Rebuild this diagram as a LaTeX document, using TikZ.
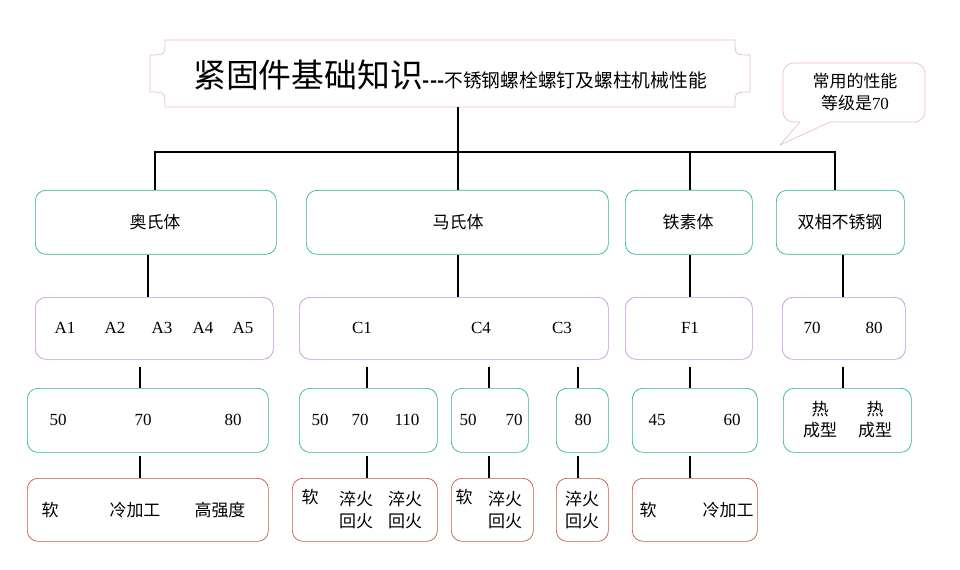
\documentclass[tikz,border=0pt]{standalone}
\usepackage{fontspec}
\setmainfont{Liberation Serif}
\newfontfamily\cjk{Noto Sans CJK SC}
\usetikzlibrary{calc}
\definecolor{tealc}{RGB}{40,180,160}
\definecolor{purplec}{RGB}{200,145,215}
\definecolor{redc}{RGB}{200,85,65}
\definecolor{pinkc}{RGB}{235,190,200}
\tikzset{
  box/.style={rectangle, rounded corners=9pt, draw, line width=0.6pt, anchor=north west, inner sep=0pt},
  tealbox/.style={box, draw=tealc},
  purplebox/.style={box, draw=purplec},
  redbox/.style={box, draw=redc},
  txt/.style={font=\cjk\fontsize{14.5}{18}\selectfont, inner sep=0pt, align=center},
  num/.style={font=\fontsize{14.5}{18}\selectfont, inner sep=0pt},
  link/.style={draw, line width=1.6pt},
}
\newcommand\mkbox[6]{\node[#1, minimum width={(#5-#3)*0.03cm}, minimum height={(#6-#4)*0.03cm}] (#2) at (#3,#4) {};}
\begin{document}
\begin{tikzpicture}[x=0.03cm,y=-0.03cm]
    \useasboundingbox (0,0) rectangle (960,570);
    % Title plaque
    \node[inner sep=0pt] (title) at (450,75) {\cjk\fontsize{28}{32}\selectfont 紧固件基础知识\textbf{\fontsize{16}{18}\selectfont ---}\fontsize{16}{18}\selectfont 不锈钢螺栓螺钉及螺柱机械性能};
    \draw[pinkc, line width=0.6pt] (165,40) -- (735,40) .. controls (735,55) .. (750,55) -- (750,92) .. controls (735,92) .. (735,107) -- (165,107) .. controls (165,92) .. (150,92) -- (150,55) .. controls (165,55) .. cycle;
    \coordinate (titlebot) at (458,107);
    % Callout
    \draw[pinkc, line width=0.6pt, rounded corners=9pt] (800,122) -- (783,122) -- (783,63) -- (925,63) -- (925,122) -- (830,122);
    \draw[pinkc, line width=0.6pt] (800,122) -- (780,145) -- (830,122);
    \node[txt] (note) at (855,92) {常用的性能\\等级是{\rmfamily 70}};

    % Row 1
    \mkbox{tealbox}{aus}{35}{190}{276}{254}
    \mkbox{tealbox}{mar}{306}{190}{608}{254}
    \mkbox{tealbox}{fer}{625}{190}{752}{254}
    \mkbox{tealbox}{dup}{776}{190}{904}{254}
    \node[txt] at (155,222) {奥氏体};
    \node[txt] at (458,222) {马氏体};
    \node[txt] at (688,222) {铁素体};
    \node[txt] at (840,222) {双相不锈钢};

    % Row 2
    \mkbox{purplebox}{ausg}{35}{297}{273}{359}
    \mkbox{purplebox}{marg}{299}{297}{608}{359}
    \mkbox{purplebox}{ferg}{625}{297}{752}{359}
    \mkbox{purplebox}{dupg}{782}{297}{905}{359}
    \foreach \x/\t in {65/A1,115/A2,162/A3,203/A4,243/A5,362/C1,481/C4,562/C3,690/F1,812/70,874/80}
      \node[num] at (\x,328) {\t};

    % Row 3
    \mkbox{tealbox}{ap}{27}{388}{268}{452}
    \mkbox{tealbox}{cap}{299}{388}{437}{452}
    \mkbox{tealbox}{cbp}{451}{388}{528}{452}
    \mkbox{tealbox}{ccp}{556}{388}{608}{452}
    \mkbox{tealbox}{fp}{632}{388}{757}{452}
    \mkbox{tealbox}{dp}{783}{388}{911}{452}
    \foreach \x/\t in {58/50,143/70,233/80,320/50,360/70,407/110,468/50,514/70,583/80,657/45,732/60}
      \node[num] at (\x,420) {\t};
    \node[txt] at (820,420) {热\\成型};
    \node[txt] at (875,420) {热\\成型};

    % Row 4
    \mkbox{redbox}{as}{27}{478}{268}{541}
    \mkbox{redbox}{cas}{292}{478}{437}{541}
    \mkbox{redbox}{cbs}{451}{478}{533}{541}
    \mkbox{redbox}{ccs}{556}{478}{608}{541}
    \mkbox{redbox}{fs}{632}{478}{757}{541}
    \foreach \x/\t in {50/软,135/冷加工,220/高强度,648/软,728/冷加工}
      \node[txt] at (\x,510) {\t};
    \node[txt] at (310,497) {软};
    \node[txt] at (356,510) {淬火\\回火};
    \node[txt] at (405,510) {淬火\\回火};
    \node[txt] at (464,497) {软};
    \node[txt] at (505,510) {淬火\\回火};
    \node[txt] at (582,510) {淬火\\回火};

    % Draw edges
    \coordinate (bus) at (458,152);
    \path[link] (titlebot) -- (bus);
    \path[link] (aus.north -| 155,0) |- (bus) -| (dup.north -| 835,0);
    \path[link] (mar.north -| bus) -- (bus);
    \path[link] (fer.north -| 690,0) -- (bus -| 690,0);
    \foreach \a/\b/\x in {aus/ausg/148,mar/marg/458,fer/ferg/690,dup/dupg/843}
      \path[link] (\a.south -| \x,0) -- (\b.north -| \x,0);
    \foreach \a/\b/\x in {ausg/ap/140,marg/cap/367,marg/cbp/489,marg/ccp/578,ferg/fp/690,dupg/dp/843}
      \path[link] ($(\a.south -| \x,0)+(0,7)$) -- (\b.north -| \x,0);
    \foreach \a/\b/\x in {ap/as/140,cap/cas/367,cbp/cbs/489,ccp/ccs/578,fp/fs/690}
      \path[link] ($(\a.south -| \x,0)+(0,3)$) -- (\b.north -| \x,0);
\end{tikzpicture}
\end{document}
